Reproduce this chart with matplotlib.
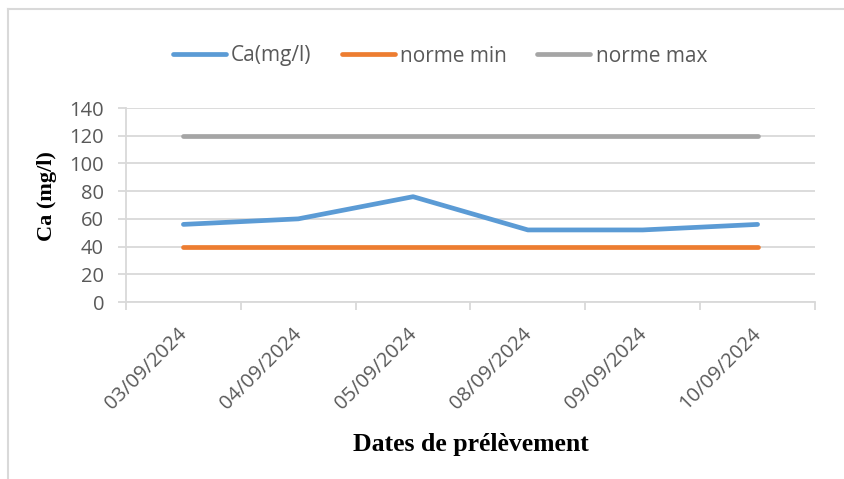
import matplotlib.pyplot as plt
from matplotlib.lines import Line2D
from matplotlib.transforms import ScaledTranslation

dates = ['03/09/2024', '04/09/2024', '05/09/2024', '08/09/2024', '09/09/2024', '10/09/2024']
ca = [56, 60, 76, 52, 52, 56]
norme_min = [40, 40, 40, 40, 40, 40]
norme_max = [120, 120, 120, 120, 120, 120]
yticks = [0, 20, 40, 60, 80, 100, 120, 140]

grid_col = '#D9D9D9'
txt_col = '#595959'

fig = plt.figure(figsize=(8.45, 4.79), dpi=100)
ax = fig.add_axes([126 / 845, 1 - 302 / 479, (815 - 126) / 845, (302 - 108) / 479])

x = list(range(len(dates)))
ax.plot(x, ca, color='#5B9BD5', lw=3.4, solid_capstyle='round', label='Ca(mg/l)', zorder=3)
ax.plot(x, norme_min, color='#ED7D31', lw=3.4, solid_capstyle='round', label='norme min', zorder=3)
ax.plot(x, norme_max, color='#A5A5A5', lw=3.4, solid_capstyle='round', label='norme max', zorder=3)

ax.set_xlim(-0.5, len(dates) - 0.5)
ax.set_ylim(0, 140)
ax.set_yticks(yticks)
ax.set_yticklabels([str(v) for v in yticks], fontsize=14.5, color=txt_col, family='Open Sans')
ax.yaxis.grid(True, color=grid_col, lw=1.3)
ax.set_axisbelow(True)
ax.tick_params(axis='y', length=5.8, width=1.3, color=grid_col, pad=10)

ax.set_xticks(x)
ax.set_xticklabels(dates, fontsize=14.5, color=txt_col, family='Open Sans',
                   rotation=45, ha='right', va='top', rotation_mode='anchor')
ax.set_xticks([i - 0.5 for i in range(len(dates) + 1)], minor=True)
ax.tick_params(axis='x', which='major', length=0, pad=0)
ax.tick_params(axis='x', which='minor', length=5.8, width=1.3, color=grid_col)
off = ScaledTranslation(-6 / 100, -22 / 100, fig.dpi_scale_trans)
for lab in ax.get_xticklabels():
    lab.set_transform(lab.get_transform() + off)

for s in ['top', 'right']:
    ax.spines[s].set_visible(False)
for s in ['left', 'bottom']:
    ax.spines[s].set_color(grid_col)
    ax.spines[s].set_linewidth(1.3)

fig.legend(loc='center', bbox_to_anchor=(440 / 845, 1 - 56 / 479), ncol=3, frameon=False,
           prop={'family': 'Open Sans', 'size': 15}, labelcolor=txt_col,
           handlelength=2.55, handletextpad=0.25, columnspacing=1.45)

fig.text(471 / 845, 1 - 444 / 479, 'Dates de prélèvement', ha='center', va='center',
         fontsize=18.5, fontweight='bold', family='Liberation Serif')
fig.text(47 / 845, 1 - 196 / 479, 'Ca (mg/l)', ha='center', va='center', rotation=90,
         fontsize=16, fontweight='bold', family='Liberation Serif')

# chart area border (only left and top edges fall inside the picture)
bx, by = 8 / 845, 1 - 9 / 479
fig.add_artist(Line2D([bx, bx], [0, by], transform=fig.transFigure, color=grid_col, lw=1.5))
fig.add_artist(Line2D([bx, 1], [by, by], transform=fig.transFigure, color=grid_col, lw=1.5))

fig.savefig('out.png', dpi=100)
